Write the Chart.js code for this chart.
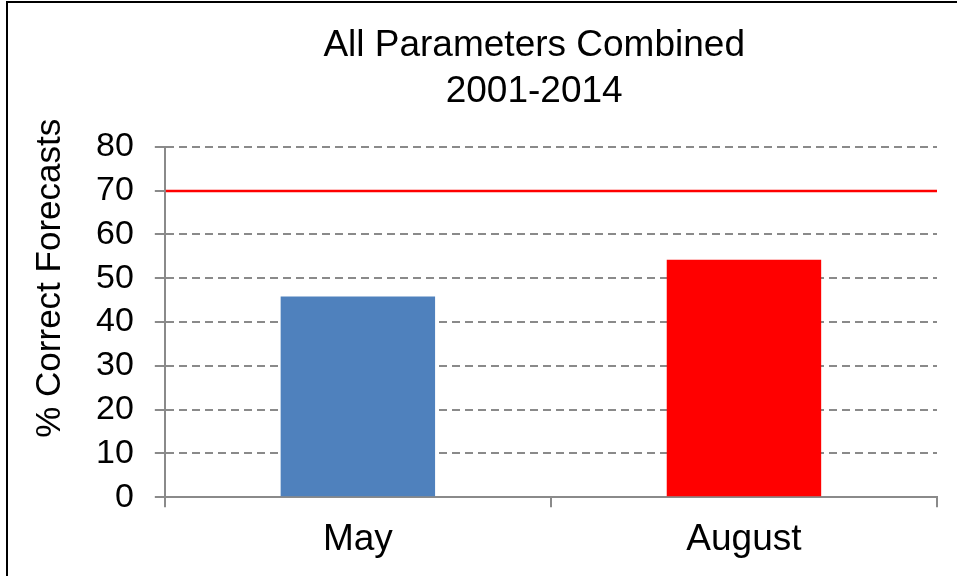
<!DOCTYPE html>
<html>
<head>
<meta charset="utf-8">
<title>All Parameters Combined</title>
<script src="https://cdn.jsdelivr.net/npm/chart.js@4"></script>
<style>
  body { margin: 0; background: #fff; }
  #wrap { position: relative; width: 957px; height: 576px; overflow: hidden; }
  #frame {
    position: absolute; left: 6px; top: 1px; width: 1000px; height: 600px;
    border-left: 2px solid #000; border-top: 2px solid #000;
    pointer-events: none;
  }
</style>
</head>
<body>
<div id="wrap">
  <canvas id="chart" width="957" height="576"></canvas>
  <div id="frame"></div>
</div>
<script>
// data
const categories = ["May", "August"];
const correctPct = [45.8, 54.2];
const barColors = ["#4F81BD", "#FF0000"];
const targetPct = 70;
const yMin = 0;
const yMax = 80;
const yStep = 10;
const titleLines = ["All Parameters Combined", "2001-2014"];
const yTitle = "% Correct Forecasts";

const axisGray = "#8a8a8a";
const fontFamily = "'Liberation Sans', Arial, sans-serif";

// red target line across the plot, placed with the y scale
const targetLine = {
  id: "targetLine",
  afterDatasetsDraw(chart) {
    const { ctx, chartArea, scales } = chart;
    const y = Math.round(scales.y.getPixelForValue(targetPct)); // sit on the grid line
    ctx.save();
    ctx.strokeStyle = "#FF0000";
    ctx.lineWidth = 2.5;
    ctx.beginPath();
    ctx.moveTo(chartArea.left + 1, y);
    ctx.lineTo(chartArea.right, y);
    ctx.stroke();
    ctx.restore();
  },
};

new Chart(document.getElementById("chart").getContext("2d"), {
  type: "bar",
  data: {
    labels: categories,
    datasets: [
      {
        label: yTitle,
        data: correctPct,
        backgroundColor: barColors,
        borderWidth: 0,
        barPercentage: 0.4,
        categoryPercentage: 1,
      },
    ],
  },
  options: {
    responsive: false,
    devicePixelRatio: 1,
    animation: false,
    layout: { padding: { left: 8, right: 20, top: 0, bottom: 3 } },
    plugins: {
      legend: { display: false },
      tooltip: { enabled: false },
      title: {
        display: true,
        // leading spaces push the centred title right, as in the original
        text: titleLines.map((t) => " ".repeat(12) + t),
        color: "#000",
        font: { family: fontFamily, size: 37, weight: "normal", lineHeight: 1.24 },
        padding: { top: 23, bottom: 32 },
      },
    },
    scales: {
      x: {
        grid: {
          display: true,
          drawOnChartArea: false,
          drawTicks: true,
          tickLength: 10,
          color: axisGray,
          lineWidth: 2,
        },
        border: { display: true, color: axisGray, width: 2 },
        ticks: {
          color: "#000",
          padding: 12.5,
          font: { family: fontFamily, size: 37, lineHeight: 1.1 },
        },
      },
      y: {
        min: yMin,
        max: yMax,
        ticks: {
          stepSize: yStep,
          autoSkip: false,
          color: "#000",
          padding: 21,
          font: { family: fontFamily, size: 34 },
        },
        grid: {
          color: axisGray,
          lineWidth: 2,
          tickLength: 10,
          tickColor: axisGray,
          tickWidth: 2,
        },
        border: { display: true, color: axisGray, width: 2, dash: [8, 5] },
        title: {
          display: true,
          // leading spaces nudge the rotated title up, as in the original
          text: " ".repeat(9) + yTitle,
          color: "#000",
          font: { family: fontFamily, size: 35 },
          padding: { top: 21, bottom: 4 },
        },
      },
    },
  },
  plugins: [targetLine],
});
</script>
</body>
</html>
